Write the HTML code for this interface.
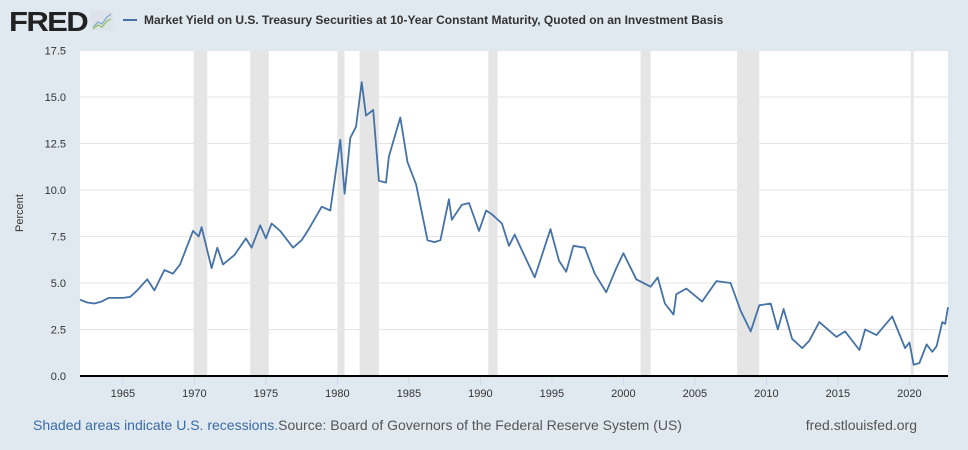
<!DOCTYPE html>
<html><head><meta charset="utf-8"><style>
body{margin:0;background:#e1e9f0;font-family:"Liberation Sans",sans-serif;}
#wrap{position:relative;width:968px;height:450px;overflow:hidden;}
</style></head><body>
<div id="wrap">
<svg id="chart" width="968" height="450">
  <text x="9" y="31" font-size="28" font-weight="bold" fill="#222" letter-spacing="-1.5" textLength="78" lengthAdjust="spacingAndGlyphs">FRED</text>
  <g>
    <rect x="91" y="11" width="22" height="19" fill="#dde3e8"/>
    <polyline points="93,27 98,22 102,24 107,17 111,14" fill="none" stroke="#7fa6cf" stroke-width="1.2"/>
    <polyline points="93,29 98,25 102,27 107,21 111,19" fill="none" stroke="#8fbf5a" stroke-width="1.2"/>
  </g>
  <line x1="123" y1="20" x2="137" y2="20" stroke="#4572a7" stroke-width="2"/>
  <text x="144" y="24" font-size="12" font-weight="bold" fill="#333">Market Yield on U.S. Treasury Securities at 10-Year Constant Maturity, Quoted on an Investment Basis</text>
  <rect x="80" y="50" width="868" height="326" fill="#fff"/>
  <g id="rec"></g><g id="grid"></g><g id="xt"></g><g id="yt"></g>
  <line x1="80" y1="376" x2="948" y2="376" stroke="#000" stroke-width="2"/>
  <polyline id="line" fill="none" stroke="#4572a7" stroke-width="1.8" stroke-linejoin="round"/>
  <text transform="translate(23,213) rotate(-90)" text-anchor="middle" font-size="11" fill="#333">Percent</text>
  <text x="33" y="430" font-size="14"><tspan fill="#3a6aa8">Shaded areas indicate U.S. recessions.</tspan><tspan fill="#555">Source: Board of Governors of the Federal Reserve System (US)</tspan></text>
  <text x="917" y="430" font-size="14" fill="#555" text-anchor="end">fred.stlouisfed.org</text>
</svg>
</div>
<script>
const dates=[1962.0,1962.5,1963,1963.5,1964,1965,1965.5,1966,1966.7,1967.2,1967.9,1968.5,1969,1969.9,1970.3,1970.5,1971.2,1971.6,1972,1972.8,1973.6,1974,1974.6,1975,1975.4,1976,1976.9,1977.5,1978,1978.9,1979.5,1980.2,1980.5,1980.9,1981.3,1981.7,1982.0,1982.5,1982.9,1983.4,1983.6,1984.4,1984.9,1985.5,1986.3,1986.8,1987.2,1987.8,1988,1988.7,1989.2,1989.9,1990.4,1990.8,1991.5,1992,1992.4,1993.0,1993.8,1994.9,1995.5,1996,1996.5,1997.3,1998.0,1998.8,1999.5,2000.0,2000.9,2001.9,2002.4,2002.9,2003.5,2003.7,2004.4,2005.5,2006.5,2007.5,2008.2,2008.9,2009.5,2010.3,2010.8,2011.2,2011.8,2012.5,2013.0,2013.7,2014.9,2015.5,2016.5,2016.9,2017.7,2018.8,2019.7,2020.0,2020.3,2020.7,2021.2,2021.6,2021.9,2022.3,2022.5,2022.7];
const yields=[4.1,3.95,3.9,4.0,4.2,4.2,4.25,4.6,5.2,4.6,5.7,5.5,6.0,7.8,7.5,8.0,5.8,6.9,6.0,6.5,7.4,6.9,8.1,7.4,8.2,7.8,6.9,7.3,7.9,9.1,8.9,12.7,9.8,12.8,13.4,15.8,14.0,14.3,10.5,10.4,11.8,13.9,11.5,10.3,7.3,7.2,7.3,9.5,8.4,9.2,9.3,7.8,8.9,8.7,8.2,7.0,7.6,6.6,5.3,7.9,6.2,5.6,7.0,6.9,5.5,4.5,5.8,6.6,5.2,4.8,5.3,3.9,3.3,4.4,4.7,4.0,5.1,5.0,3.5,2.4,3.8,3.9,2.5,3.6,2.0,1.5,1.9,2.9,2.1,2.4,1.4,2.5,2.2,3.2,1.5,1.8,0.6,0.7,1.7,1.3,1.6,2.9,2.8,3.7];
const recStart=[1969.95,1973.9,1980.0,1981.55,1990.55,2001.2,2007.95,2020.1];
const recEnd=[1970.9,1975.2,1980.5,1982.9,1991.2,2001.9,2009.5,2020.3];
const xTicks=[1965,1970,1975,1980,1985,1990,1995,2000,2005,2010,2015,2020];
const yTicks=[0,2.5,5,7.5,10,12.5,15,17.5];
const NS="http://www.w3.org/2000/svg";
const x=d=>80+(d-1962)*14.3;
const y=v=>376-v*18.6;
function mk(t,a,p){const e=document.createElementNS(NS,t);for(const k in a)e.setAttribute(k,a[k]);p.appendChild(e);return e;}
const rec=document.getElementById('rec');
recStart.forEach((s,i)=>{const r=mk('rect',{x:x(s),y:50,width:x(recEnd[i])-x(s),height:326,fill:'#e5e5e5'},rec);

});
const g=document.getElementById('grid'),yt=document.getElementById('yt'),xt=document.getElementById('xt');
yTicks.forEach(v=>{const l=mk('line',{x1:80,x2:948,y1:y(v),y2:y(v),stroke:'#e6e6e6'},g);


const t=mk('text',{x:66,y:y(v)+4,'text-anchor':'end','font-size':11,fill:'#333'},yt);t.textContent=v.toFixed(1);

});
xTicks.forEach(d=>{const l=mk('line',{x1:x(d),x2:x(d),y1:377,y2:385,stroke:'#ccd6eb'},xt);


const t=mk('text',{x:x(d),y:397,'text-anchor':'middle','font-size':11,fill:'#333'},xt);t.textContent=d;

});
document.getElementById('line').setAttribute('points',dates.map((d,i)=>x(d).toFixed(1)+','+y(yields[i]).toFixed(1)).join(' '));
</script>
</body></html>
